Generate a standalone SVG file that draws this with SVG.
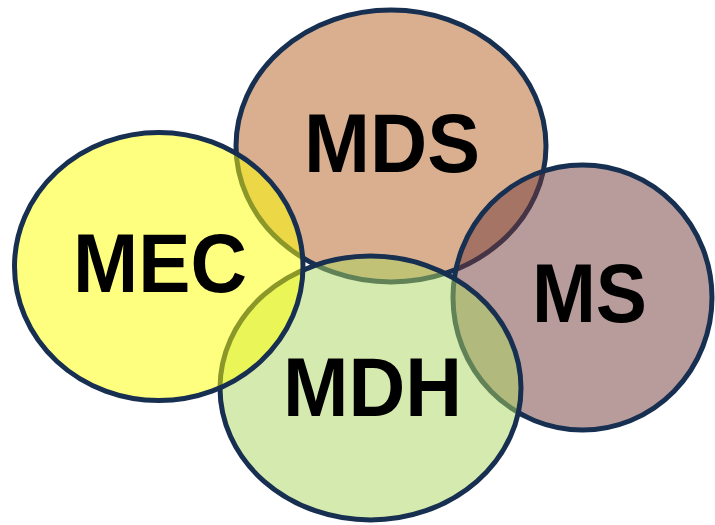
<svg xmlns="http://www.w3.org/2000/svg" width="715" height="525" viewBox="0 0 715 525">
  <style>
    .c { stroke: #172f50; stroke-width: 5; fill-opacity: 0.5; }
    .t { font-family: "Liberation Sans", Arial, sans-serif; font-weight: bold; font-size: 84px; fill: #000; text-anchor: middle; }
  </style>
  <rect width="715" height="525" fill="#ffffff"/>
  <g id="MDS">
    <ellipse class="c" cx="391" cy="146" rx="155" ry="136" fill="#b46020"/>
  </g>
  <g id="MS">
    <ellipse class="c" cx="582.5" cy="297.5" rx="129.5" ry="132.5" fill="#713939"/>
  </g>
  <g id="MDH">
    <ellipse class="c" cx="370.5" cy="388" rx="150.5" ry="132" fill="#abd55d"/>
  </g>
  <g id="MEC">
    <ellipse class="c" cx="158.75" cy="266.5" rx="144.25" ry="134" fill="#ffff00"/>
  </g>
  <g id="labels">
    <text class="t" x="392" y="172" textLength="176" lengthAdjust="spacingAndGlyphs">MDS</text>
    <text class="t" x="160" y="292" textLength="174" lengthAdjust="spacingAndGlyphs">MEC</text>
    <text class="t" x="589.5" y="322" textLength="115" lengthAdjust="spacingAndGlyphs">MS</text>
    <text class="t" x="372.5" y="416" textLength="179" lengthAdjust="spacingAndGlyphs">MDH</text>
  </g>
  <g id="connectors"/>
</svg>
